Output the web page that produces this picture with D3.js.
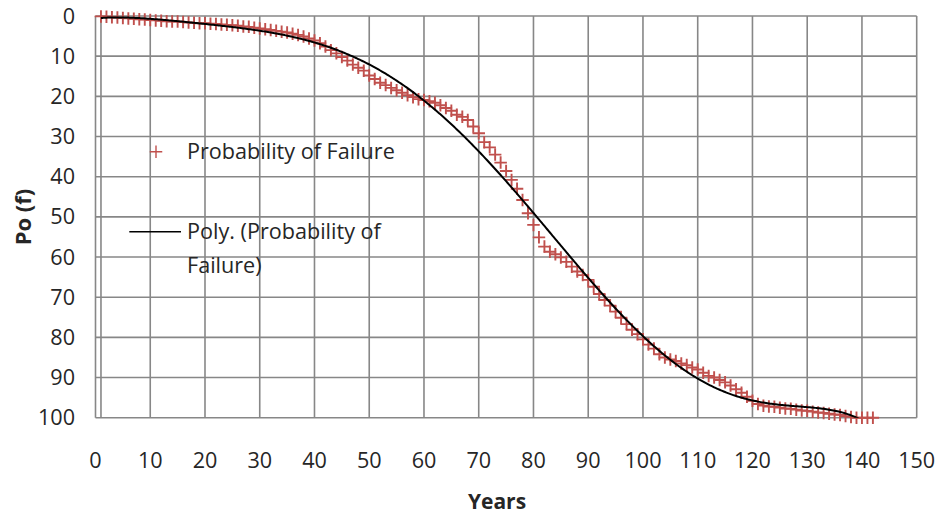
<!DOCTYPE html>
<html>
<head>
<meta charset="utf-8">
<script src="https://cdn.jsdelivr.net/npm/d3@7/dist/d3.min.js"></script>
<style>
  html, body { margin: 0; padding: 0; background: #ffffff; }
  svg { display: block; }
  text { font-family: "Open Sans", Lato, sans-serif; fill: #262626; }
</style>
</head>
<body>
<svg id="chart" width="941" height="517"></svg>
<script>
// Probability of failure (%) by age in years
const years = d3.range(1, 143);
const failure = [
  0.1, 0.2, 0.3, 0.4, 0.5, 0.6, 0.7, 0.8, 0.9, 1.0,
  1.1, 1.2, 1.3, 1.4, 1.4, 1.5, 1.6, 1.7, 1.8, 1.8,
  1.9, 2.0, 2.1, 2.2, 2.3, 2.4, 2.6, 2.7, 2.9, 3.1,
  3.3, 3.5, 3.7, 3.9, 4.1, 4.4, 4.7, 5.1, 5.6, 6.1,
  6.8, 7.6, 8.5, 9.3, 10.2, 11.1, 12.1, 12.9, 13.6, 14.8,
  15.7, 16.6, 17.2, 17.9, 18.5, 19.1, 19.7, 20.2, 20.7, 20.9,
  21.2, 21.6, 22.2, 22.9, 23.6, 24.6, 25.1, 25.9, 27.5, 29.2,
  31.4, 32.7, 34.5, 36.5, 38.6, 40.8, 43.0, 45.8, 49.1, 52.0,
  55.1, 57.4, 58.7, 59.3, 60.1, 61.2, 62.4, 63.6, 64.5, 65.7,
  67.4, 69.2, 70.7, 72.1, 73.6, 75.1, 76.7, 78.1, 79.2, 80.5,
  81.8, 82.8, 84.2, 85.0, 85.5, 85.9, 86.5, 86.9, 87.5, 88.0,
  88.8, 89.6, 90.0, 90.6, 91.2, 92.0, 92.9, 93.8, 94.8, 95.8,
  96.6, 97.0, 97.2, 97.3, 97.5, 97.7, 97.8, 98.0, 98.2, 98.3,
  98.5, 98.7, 98.8, 99.0, 99.2, 99.3, 99.6, 99.8, 100, 100,
  100, 100
];
const xTicks = d3.range(0, 151, 10);
const yTicks = d3.range(0, 101, 10);
const seriesName = "Probability of Failure";
const trendName = ["Poly. (Probability of", "Failure)"];
const trendOrder = 6;

// Least-squares polynomial trend on a normalised x scale
function polyfit(xs, ys, deg) {
  const mid = (d3.min(xs) + d3.max(xs)) / 2, half = (d3.max(xs) - d3.min(xs)) / 2;
  const n = deg + 1;
  const A = Array.from({length: n}, () => new Array(n).fill(0));
  const b = new Array(n).fill(0);
  xs.forEach((x, i) => {
    const t = (x - mid) / half;
    const p = [];
    for (let k = 0; k < n; k++) p.push(Math.pow(t, k));
    for (let r = 0; r < n; r++) {
      b[r] += p[r] * ys[i];
      for (let c = 0; c < n; c++) A[r][c] += p[r] * p[c];
    }
  });
  for (let col = 0; col < n; col++) {
    let piv = col;
    for (let r = col + 1; r < n; r++) if (Math.abs(A[r][col]) > Math.abs(A[piv][col])) piv = r;
    [A[col], A[piv]] = [A[piv], A[col]];
    [b[col], b[piv]] = [b[piv], b[col]];
    for (let r = col + 1; r < n; r++) {
      const f = A[r][col] / A[col][col];
      for (let c = col; c < n; c++) A[r][c] -= f * A[col][c];
      b[r] -= f * b[col];
    }
  }
  const coef = new Array(n).fill(0);
  for (let r = n - 1; r >= 0; r--) {
    let s = b[r];
    for (let c = r + 1; c < n; c++) s -= A[r][c] * coef[c];
    coef[r] = s / A[r][r];
  }
  return x => {
    const t = (x - mid) / half;
    let v = 0;
    for (let k = n - 1; k >= 0; k--) v = v * t + coef[k];
    return v;
  };
}

const svg = d3.select("#chart");
const x = d3.scaleLinear().domain([0, 150]).range([95.5, 916.7]);
const y = d3.scaleLinear().domain([0, 100]).range([16, 417.7]);
const gridColor = "#878787";
const labelSize = 21.6;

// Grid
const grid = svg.append("g");
grid.selectAll("line.v").data(xTicks).join("line")
  .attr("x1", d => x(d)).attr("x2", d => x(d))
  .attr("y1", y(0)).attr("y2", y(100))
  .attr("stroke", gridColor).attr("stroke-width", 1.6);
grid.selectAll("line.h").data(yTicks).join("line")
  .attr("x1", x(0)).attr("x2", x(150))
  .attr("y1", d => y(d)).attr("y2", d => y(d))
  .attr("stroke", gridColor).attr("stroke-width", 1.6);
// Value axis line crossing at year 1
grid.append("line")
  .attr("x1", x(1)).attr("x2", x(1))
  .attr("y1", y(0)).attr("y2", y(100))
  .attr("stroke", gridColor).attr("stroke-width", 1.6);

// Tick labels
svg.append("g").selectAll("text").data(yTicks).join("text")
  .attr("x", 75).attr("y", d => y(d)).attr("dy", "0.35em")
  .attr("text-anchor", "end").attr("font-size", labelSize)
  .text(d => d);
svg.append("g").selectAll("text").data(xTicks).join("text")
  .attr("x", d => x(d)).attr("y", 460).attr("dy", "0.35em")
  .attr("text-anchor", "middle").attr("font-size", labelSize)
  .text(d => d);

// Axis titles
svg.append("text")
  .attr("transform", "translate(23,217) rotate(-90)")
  .attr("text-anchor", "middle").attr("dy", "0.35em")
  .attr("font-size", 22).attr("font-weight", "bold")
  .text("Po (f)");
svg.append("text")
  .attr("x", 497).attr("y", 502).attr("dy", "0.35em")
  .attr("text-anchor", "middle")
  .attr("font-size", 21).attr("font-weight", "bold")
  .text("Years");

// Markers
const red = "#c0504d";
function plusPath(s) {
  const h = s / 2;
  return `M${-h},0H${h}M0,${-h}V${h}`;
}
svg.append("g").selectAll("path").data(years).join("path")
  .attr("transform", (d, i) => `translate(${x(d)},${y(failure[i])})`)
  .attr("d", plusPath(12.5))
  .attr("stroke", red).attr("stroke-width", 1.9).attr("fill", "none");

// Polynomial trend, clipped to the plot area
svg.append("clipPath").attr("id", "plotClip").append("rect")
  .attr("x", x(0)).attr("y", y(0) - 1)
  .attr("width", x(150) - x(0)).attr("height", y(100) - y(0) + 1);
const trend = polyfit(years, failure, trendOrder);
const tx = d3.range(1, 142.01, 0.25);
svg.append("path")
  .attr("clip-path", "url(#plotClip)")
  .attr("d", d3.line().x(d => x(d)).y(d => y(trend(d)))(tx))
  .attr("fill", "none").attr("stroke", "#000").attr("stroke-width", 2);

// Legend
const lg = svg.append("g");
lg.append("path").attr("transform", "translate(156,151.7)")
  .attr("d", plusPath(12.5))
  .attr("stroke", red).attr("stroke-width", 1.4).attr("fill", "none");
lg.append("text").attr("x", 187).attr("y", 151.7).attr("dy", "0.35em")
  .attr("font-size", labelSize).text(seriesName);
lg.append("line").attr("x1", 129.3).attr("x2", 181)
  .attr("y1", 231.7).attr("y2", 231.7)
  .attr("stroke", "#000").attr("stroke-width", 1.6);
lg.selectAll("text.t").data(trendName).join("text")
  .attr("x", 187).attr("y", (d, i) => 231.7 + i * 33.3).attr("dy", "0.35em")
  .attr("font-size", labelSize).text(d => d);
</script>
</body>
</html>
